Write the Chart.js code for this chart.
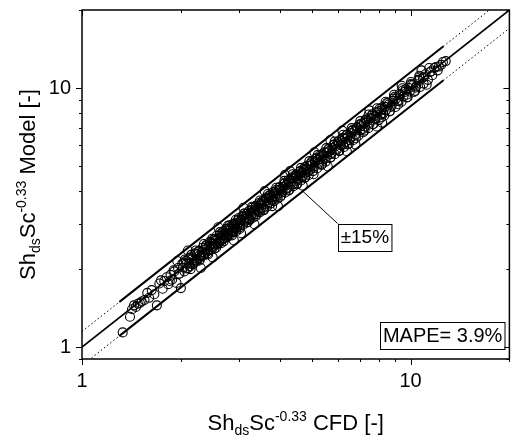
<!DOCTYPE html>
<html><head><meta charset="utf-8">
<script src="https://cdn.jsdelivr.net/npm/chart.js@4.4.1/dist/chart.umd.min.js"></script>
<style>html,body{margin:0;padding:0;background:#fff}#wrap{width:515px;height:437px}</style>
</head><body><div id="wrap"><canvas id="c" width="515" height="437"></canvas></div>
<script>
// CFD values (x) and model values (y)
const cfd = [
 1.33,1.40,1.42,1.44,1.46,1.48,1.50,1.52,1.55,1.58,1.60,1.63,1.66,1.69,1.72,1.74,1.76,1.78,1.81,1.83,1.86,1.88,1.91,1.94,1.96,1.98,2.00,
 2.02,2.05,2.07,2.09,2.11,2.13,2.15,2.17,2.19,2.21,
 2.23,2.25,2.27,2.29,2.31,2.33,2.35,2.37,2.39,2.41,
 2.43,2.45,2.47,2.49,2.51,2.53,2.55,2.57,2.59,2.61,
 2.63,2.65,2.67,2.69,2.71,2.73,2.75,2.77,2.79,2.81,
 2.83,2.85,2.87,2.89,2.91,2.93,2.95,2.97,3.00,3.02,
 3.04,3.07,3.09,3.12,3.14,3.17,3.19,3.22,3.24,3.27,
 3.30,3.32,3.35,3.38,3.40,3.43,3.46,3.48,3.51,3.54,
 3.57,3.60,3.63,3.66,3.69,3.72,3.75,3.78,3.81,3.84,
 3.87,3.90,3.94,3.97,4.00,4.04,4.08,4.12,4.16,4.20,
 4.24,4.28,4.32,4.36,4.40,4.44,4.48,4.52,4.56,4.60,
 4.64,4.68,4.72,4.76,4.80,4.85,4.90,4.95,5.00,5.05,
 5.10,5.15,5.20,5.25,5.30,5.35,5.40,5.46,5.52,5.58,
 5.64,5.70,5.76,5.82,5.88,5.94,6.00,6.07,6.14,6.21,
 6.28,6.35,6.42,6.49,6.56,6.63,6.70,6.78,6.86,6.94,
 7.02,7.10,7.18,7.26,7.35,7.44,7.53,7.62,7.71,7.80,
 7.90,8.00,8.10,8.20,8.31,8.42,8.53,8.64,8.76,8.88,
 9.00,9.13,9.26,9.39,9.52,9.66,9.80,9.95,10.10,10.25,
 10.40,10.55,10.70,10.90,11.10,11.30,11.55,11.80,12.10,12.40,12.80,
 2.03,2.08,2.12,2.16,2.20,2.24,2.28,2.32,2.36,2.40,
 2.44,2.48,2.52,2.56,2.60,2.64,2.68,2.72,2.76,2.80,
 2.84,2.88,2.92,2.96,3.01,3.05,3.10,3.15,3.20,3.25,
 3.31,3.36,3.42,3.47,3.53,3.59,3.65,3.71,3.77,3.83,
 3.89,3.96,4.02,4.10,4.18,4.26,4.34,4.42,4.50,4.58,
 4.66,4.74,4.83,4.92,5.02,5.12,5.22,5.33,5.44,5.55,
 5.67,5.79,5.91,6.04,6.17,6.31,6.45,6.60,6.75,6.90,
 7.06,7.22,7.39,7.57,7.75,7.94,8.15,8.36,8.58,8.82,
 9.06,9.32,9.60,9.90,10.20,10.60,11.00,11.45,11.95,12.55,
 2.10,2.30,2.60,2.90,3.10,3.35,3.60,3.95,4.30,4.70,5.10,5.60,6.20,6.80,7.50,8.20,9.40,1.95,2.50,3.05,4.15,5.70,6.40,7.90,10.80,11.20,
 1.85,1.90,1.97,2.04,2.10,2.14,2.18,2.22,2.26,2.30,
 2.34,2.38,2.42,2.46,2.50,2.54,2.58,2.62,2.66,2.70,
 2.74,2.78,2.82,2.86,2.90,2.94,2.98,3.03,3.08,3.13,
 3.18,3.23,3.28,3.34,3.39,3.45,3.50,3.56,3.62,3.68,
 3.74,3.80,3.86,3.92,3.99,4.06,4.14,4.22,4.30,4.38,
 4.46,4.54,4.62,4.70,4.78,4.87,4.97,5.07,5.17,5.28,
 5.38,5.49,5.61,5.73,5.85,5.97,6.10,6.24,6.38,6.52,
 6.67,6.82,6.98,7.14,7.30,7.47,7.65,7.83,8.05,8.26,
 8.47,8.70,8.94,9.20,9.46,9.74,10.02,10.35,10.65,11.65,
 2.06,2.14,2.22,2.28,2.35,2.42,2.49,2.56,2.63,2.70,
 2.78,2.86,2.94,3.02,3.11,3.20,3.29,3.38,3.48,3.58,
 3.68,3.79,3.90,4.01,4.13,4.25,4.38,4.51,4.64,4.78,
 4.92,5.07,5.22,5.38,5.54,5.71,5.88,6.06,6.24,6.43,
 6.62,6.82,7.03,7.24,7.46,7.68,7.91,8.15,8.40,8.65,
 8.91,9.18,9.45,9.74,10.03,10.33,10.64,10.96,11.40,12.20
];
const model = [
 1.14,1.31,1.40,1.45,1.43,1.47,1.48,1.50,1.52,1.62,1.55,1.66,1.60,1.45,1.76,1.81,1.68,1.80,1.86,1.75,1.90,1.82,1.96,1.77,2.02,1.92,1.69,
 2.10,1.96,2.15,2.01,2.20,2.05,2.27,2.09,2.12,2.30,
 2.14,2.19,2.35,2.21,2.25,2.42,2.26,2.31,2.48,2.30,
 2.36,2.55,2.38,2.44,2.60,2.40,2.48,2.69,2.50,2.56,
 2.72,2.52,2.60,2.80,2.62,2.70,2.86,2.66,2.74,2.95,
 2.72,2.80,2.98,2.78,2.88,3.02,2.80,2.92,3.15,2.90,
 3.00,3.20,2.96,3.08,3.28,3.02,3.15,3.35,3.10,3.22,
 3.45,3.16,3.30,3.50,3.26,3.38,3.60,3.32,3.45,3.66,
 3.40,3.55,3.78,3.48,3.62,3.85,3.58,3.72,3.96,3.66,
 3.82,4.05,3.74,3.92,4.15,3.85,4.02,4.28,3.95,4.12,
 4.40,4.05,4.26,4.52,4.18,4.36,4.62,4.28,4.48,4.76,
 4.40,4.60,4.88,4.50,4.72,5.02,4.62,4.85,5.20,4.78,
 5.00,5.35,4.90,5.15,5.50,5.05,5.30,5.65,5.20,5.48,
 5.82,5.38,5.62,6.02,5.55,5.82,6.20,5.72,6.02,6.42,
 5.92,6.20,6.62,6.10,6.42,6.85,6.30,6.62,7.05,6.55,
 6.85,7.30,6.75,7.10,7.55,7.00,7.35,7.82,7.25,7.62,
 8.10,7.52,7.92,8.42,7.82,8.22,8.75,8.12,8.55,9.10,
 8.45,8.92,9.50,8.85,9.30,9.88,9.22,9.70,10.30,9.65,
 10.15,10.75,10.10,10.95,11.30,10.75,11.60,11.95,11.70,12.30,12.70,
 2.03,2.10,2.10,2.18,2.17,2.28,2.26,2.33,2.38,2.40,
 2.46,2.50,2.50,2.58,2.63,2.63,2.70,2.76,2.75,2.83,
 2.86,2.88,2.95,2.98,3.03,3.10,3.12,3.18,3.22,3.30,
 3.33,3.40,3.45,3.52,3.55,3.64,3.68,3.76,3.80,3.90,
 3.92,4.02,4.06,4.16,4.22,4.32,4.38,4.50,4.55,4.65,
 4.70,4.82,4.88,5.00,5.06,5.20,5.28,5.40,5.50,5.64,
 5.72,5.88,5.96,6.12,6.24,6.40,6.50,6.70,6.82,7.00,
 7.12,7.32,7.45,7.66,7.82,8.04,8.20,8.46,8.64,8.92,
 9.12,9.42,9.66,10.00,10.25,10.70,11.05,11.50,12.05,12.60,
 2.36,2.02,2.90,2.58,3.45,2.98,4.00,3.50,4.78,4.20,5.65,4.98,6.85,6.05,8.20,7.35,10.20,2.15,2.22,2.75,4.62,6.30,5.70,7.10,11.70,10.30,
 1.80,1.98,1.92,2.12,2.02,2.22,2.10,2.16,2.34,2.24,
 2.28,2.45,2.35,2.52,2.42,2.62,2.52,2.54,2.75,2.64,
 2.82,2.70,2.90,2.78,2.98,2.86,3.08,2.95,3.18,3.05,
 3.28,3.12,3.38,3.26,3.52,3.34,3.58,3.45,3.74,3.58,
 3.86,3.70,3.98,3.82,4.12,3.95,4.28,4.10,4.44,4.25,
 4.60,4.42,4.78,4.56,4.95,4.74,5.12,4.92,5.35,5.10,
 5.55,5.34,5.80,5.55,6.05,5.78,6.30,6.05,6.58,6.30,
 6.88,6.62,7.22,6.92,7.55,7.22,7.92,7.58,8.32,8.00,
 8.75,8.45,9.25,8.90,9.78,9.42,10.35,10.02,11.00,11.20,
 2.18,2.00,2.36,2.16,2.50,2.28,2.62,2.42,2.78,2.56,
 2.94,2.70,3.10,2.86,3.28,3.04,3.48,3.20,3.68,3.38,
 3.90,3.50,4.12,3.80,4.38,4.02,4.65,4.25,4.92,4.52,
 5.22,4.65,5.52,5.08,5.86,5.40,6.22,5.72,6.60,6.06,
 7.00,6.40,7.45,6.85,7.90,7.26,8.35,7.70,8.85,8.16,
 9.42,8.66,9.98,9.20,10.55,9.75,11.15,10.40,11.95,12.10
];

const xRange = [1, 20];
const yRange = [0.9, 20];
const xMajor = [1, 10];
const xMinor = [2, 3, 4, 5, 6, 7, 8, 9, 20];
const yMajor = [1, 10];
const yMinor = [0.9, 2, 3, 4, 5, 6, 7, 8, 9, 20];
const parityLine = [1, 20];
const band = 0.15;
const bandSolid = [1.3, 12.6];
const bandLabel = '\u00B115%';
const leaderFromX = 4.7;
const bandLabelAt = [6.0, 3.0];
const mapeLabel = 'MAPE= 3.9%';
const xTitle = [['Sh',0],['ds',1],['Sc',0],['-0.33',2],[' CFD [-]',0]];
const yTitle = [['Sh',0],['ds',1],['Sc',0],['-0.33',2],[' Model [-]',0]];

const FONT = '"Liberation Sans", Arial, sans-serif';
const pts = cfd.map((x, i) => ({x: x, y: model[i]}));
const lineDs = (data, width, dash) => ({type:'scatter', data, showLine:true, pointRadius:0, borderColor:'#000', borderWidth:width, borderDash:dash, fill:false});

function richText(ctx, parts, x, y) {
  const sizes = [22, 14, 14], dys = [0, 5, -9];
  let w = 0;
  parts.forEach(p => { ctx.font = sizes[p[1]] + 'px ' + FONT; w += ctx.measureText(p[0]).width; });
  let cx = x - w / 2;
  ctx.textAlign = 'left'; ctx.textBaseline = 'alphabetic';
  parts.forEach(p => { ctx.font = sizes[p[1]] + 'px ' + FONT; ctx.fillText(p[0], cx, y + dys[p[1]]); cx += ctx.measureText(p[0]).width; });
}

const decor = {
  id: 'decor',
  afterDraw(chart) {
    const ctx = chart.ctx, a = chart.chartArea, xs = chart.scales.x, ys = chart.scales.y;
    ctx.save();
    ctx.strokeStyle = '#000'; ctx.fillStyle = '#000';
    ctx.lineWidth = 1.5;
    ctx.strokeRect(a.left, a.top, a.right - a.left, a.bottom - a.top);
    ctx.lineWidth = 1;
    const tick = (x1, y1, x2, y2) => { ctx.beginPath(); ctx.moveTo(x1, y1); ctx.lineTo(x2, y2); ctx.stroke(); };
    [[xMajor, 6], [xMinor, 3]].forEach(([vals, len]) => vals.forEach(v => {
      const px = Math.round(xs.getPixelForValue(v)) + 0.5;
      tick(px, a.bottom, px, a.bottom + len);
      tick(px, a.top, px, a.top + len);
    }));
    [[yMajor, 6], [yMinor, 3]].forEach(([vals, len]) => vals.forEach(v => {
      const py = Math.round(ys.getPixelForValue(v)) + 0.5;
      tick(a.left - len, py, a.left, py);
      tick(a.right - len, py, a.right, py);
    }));
    const lx = xs.getPixelForValue(bandLabelAt[0]), ly = ys.getPixelForValue(bandLabelAt[1]);
    const fx = xs.getPixelForValue(leaderFromX), fy = ys.getPixelForValue(leaderFromX * (1 - band));
    ctx.beginPath(); ctx.moveTo(fx, fy); ctx.lineTo(lx, ly); ctx.stroke();
    ctx.font = '19px ' + FONT;
    const bw = ctx.measureText(bandLabel).width + 5;
    ctx.strokeRect(Math.round(lx) + 0.5, Math.round(ly) + 0.5, bw, 27);
    ctx.textAlign = 'left'; ctx.textBaseline = 'middle';
    ctx.fillText(bandLabel, lx + 3, ly + 14);
    ctx.font = '20px ' + FONT;
    const mw = ctx.measureText(mapeLabel).width + 5;
    const mx = a.right - 5 - mw, my = a.bottom - 10 - 27;
    ctx.fillStyle = '#fff'; ctx.fillRect(mx, my, mw, 27); ctx.fillStyle = '#000';
    ctx.strokeRect(Math.round(mx) + 0.5, Math.round(my) + 0.5, mw, 27);
    ctx.fillText(mapeLabel, mx + 3, my + 14.5);
    richText(ctx, xTitle, (a.left + a.right) / 2, 430);
    ctx.translate(35, (a.top + a.bottom) / 2);
    ctx.rotate(-Math.PI / 2);
    richText(ctx, yTitle, 0, 0);
    ctx.restore();
  }
};

new Chart(document.getElementById('c'), {
  type: 'scatter',
  data: { datasets: [
    lineDs(parityLine.map(v => ({x: v, y: v})), 1.6, []),
    lineDs(bandSolid.map(v => ({x: v, y: v * (1 + band)})), 2, []),
    lineDs(bandSolid.map(v => ({x: v, y: v * (1 - band)})), 2, []),
    lineDs(parityLine.map(v => ({x: v, y: v * (1 + band)})), 1, [1.5, 2.5]),
    lineDs(parityLine.map(v => ({x: v, y: v * (1 - band)})), 1, [1.5, 2.5]),
    { type: 'scatter', data: pts, pointRadius: 4.5, pointBorderWidth: 1.1, pointBorderColor: '#000', pointBackgroundColor: 'rgba(0,0,0,0)', showLine: false }
  ]},
  options: {
    responsive: false, animation: false,
    layout: { padding: { left: 0, top: 10, right: 2, bottom: 0 } },
    plugins: { legend: { display: false }, tooltip: { enabled: false } },
    scales: {
      x: {
        type: 'logarithmic', min: xRange[0], max: xRange[1],
        grid: { display: false, drawTicks: false }, border: { display: false },
        afterFit: s => { s.height = 78; s.paddingLeft = 0; s.paddingRight = 0; },
        afterBuildTicks: s => { s.ticks = xMajor.map(v => ({value: v})); },
        ticks: { autoSkip: false, maxRotation: 0, padding: 10, color: '#000', font: { family: FONT, size: 20 },
          callback: v => String(v) }
      },
      y: {
        type: 'logarithmic', min: yRange[0], max: yRange[1],
        grid: { display: false, drawTicks: false }, border: { display: false },
        afterFit: s => { s.width = 82; s.paddingTop = 0; s.paddingBottom = 0; },
        afterBuildTicks: s => { s.ticks = yMajor.map(v => ({value: v})); },
        ticks: { autoSkip: false, padding: 11, color: '#000', font: { family: FONT, size: 20 },
          callback: v => String(v) }
      }
    }
  },
  plugins: [decor]
});
</script>
</body></html>
